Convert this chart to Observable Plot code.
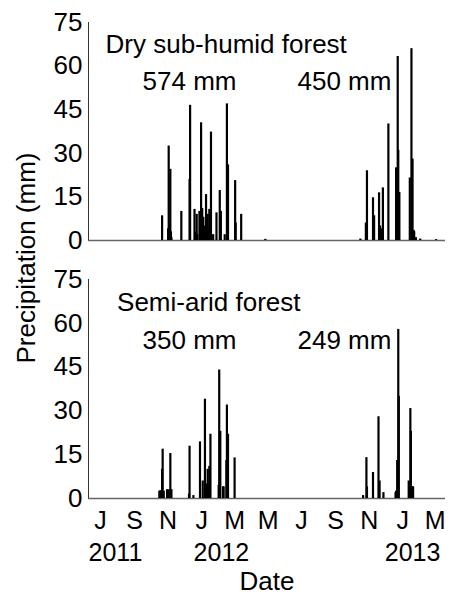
<!DOCTYPE html>
<html><head><meta charset="utf-8">
<script src="https://cdn.jsdelivr.net/npm/d3@7"></script>
<script src="https://cdn.jsdelivr.net/npm/@observablehq/plot@0.6"></script>
<style>
body{margin:0;background:#fff;}
#chart{position:relative;width:452px;height:595px;font-family:"Liberation Sans",Arial,sans-serif;color:#000;}
#chart svg{display:block;}
#ylab{position:absolute;left:26px;top:258px;transform:translate(-50%,-50%) rotate(-90deg);font-size:26px;white-space:nowrap;line-height:1;}
</style></head><body><div id="chart"></div>
<script>
// ---- data ----
const xDomain = ["2011-06-09", "2013-03-20"];
const yTicks = [0, 15, 30, 45, 60, 75];
const tickDates = ["2011-07-01","2011-09-01","2011-11-01","2012-01-01","2012-03-01","2012-05-01","2012-07-01","2012-09-01","2012-11-01","2013-01-01","2013-03-01"];
const tickLetters = ["J","S","N","J","M","M","J","S","N","J","M"];
const yearLabels = ["2011","2012","2013"];
const yearDates = ["2011-07-28","2012-02-06","2013-01-19"];

const dryDates = ["2011-10-21","2011-11-01","2011-11-02","2011-11-03","2011-11-04","2011-11-05","2011-11-06","2011-11-07","2011-11-25","2011-12-10","2011-12-11","2011-12-19","2011-12-20","2011-12-23","2011-12-24","2011-12-28","2011-12-29","2011-12-31","2012-01-01","2012-01-02","2012-01-04","2012-01-05","2012-01-06","2012-01-09","2012-01-10","2012-01-12","2012-01-13","2012-01-15","2012-01-16","2012-01-18","2012-01-19","2012-01-22","2012-01-28","2012-02-03","2012-02-05","2012-02-12","2012-02-16","2012-02-18","2012-03-02","2012-03-03","2012-03-13","2012-04-26","2012-10-16","2012-10-26","2012-10-28","2012-11-08","2012-11-10","2012-11-19","2012-11-21","2012-11-23","2012-11-26","2012-12-06","2012-12-20","2012-12-23","2012-12-24","2012-12-26","2013-01-14","2013-01-17","2013-01-19","2013-01-20","2013-01-21","2013-01-22","2013-01-25","2013-02-02","2013-03-03"];
const dryValues = [8.5,4,32.5,5,5.5,24.5,3,1,10,21,46.5,10.7,3,9,2,10,4,40.5,6,11,8,3,5,15.8,2,9,4,10.7,3,37.3,2,2,9.5,17.2,10,2,47,26,20.6,6,9,0.4,0.5,6,24,14.7,8.5,16.4,5,4,18.1,40.1,25,63.3,31,16.5,21.5,66,28,3,3.5,3,1,0.5,0.3];

const semiDates = ["2011-10-16","2011-10-18","2011-10-21","2011-10-22","2011-10-24","2011-10-30","2011-11-02","2011-11-05","2011-11-07","2011-12-09","2011-12-10","2011-12-17","2011-12-29","2012-01-03","2012-01-07","2012-01-08","2012-01-10","2012-01-12","2012-01-13","2012-01-15","2012-01-16","2012-01-17","2012-02-01","2012-02-02","2012-02-04","2012-02-09","2012-02-10","2012-02-15","2012-02-16","2012-02-18","2012-03-01","2012-10-21","2012-10-27","2012-10-28","2012-11-08","2012-11-18","2012-11-20","2012-11-27","2012-12-19","2012-12-20","2012-12-22","2012-12-24","2012-12-25","2013-01-12","2013-01-13","2013-01-15","2013-01-16","2013-01-19","2013-01-20"];
const semiValues = [2.5,2.7,10,16.9,2.5,3,3,15.4,3,1.5,17.9,1,19.4,6,34,3,5,10,5,11,4,22,4.5,44,23,4,4,13,32,22,13.9,1,14,4,8.9,28,6,2,2,2.5,13,57.9,35,6,4,30.8,23,4,4];

const dryTitle = "Dry sub-humid forest", dryTitleDate = "2011-07-10", dryTitleValue = 67.4;
const dryTotals = ["574 mm","450 mm"], dryTotalDates = ["2011-12-10","2012-09-17"], dryTotalValue = 54.7;
const semiTitle = "Semi-arid forest", semiTitleDate = "2011-07-31", semiTitleValue = 67;
const semiTotals = ["350 mm","249 mm"], semiTotalDates = ["2011-12-10","2012-09-17"], semiTotalValue = 54.2;

// ---- drawing ----
const FONT = '"Liberation Sans", Arial, sans-serif';
const D = s => new Date(s);

function panel({dates, values, title, titleDate, titleValue, totals, totalDates, totalValue, bottom}) {
  const rows = dates.map((d, i) => ({date: D(d), value: values[i]}));
  const x0 = D(xDomain[0]);
  const marks = [
    Plot.ruleY([0], {stroke: "#666", strokeWidth: 1.6}),
    Plot.ruleX([x0], {stroke: "#333", strokeWidth: 1}),
    Plot.ruleX(rows, {x: "date", y: "value", stroke: "#000", strokeWidth: 2.2}),
    Plot.text([title], {x: [D(titleDate)], y: [titleValue], text: d => d, textAnchor: "start", fontSize: 26, fill: "#000"}),
    Plot.text(totals, {x: totalDates.map(D), y: totals.map(() => totalValue), text: d => d, textAnchor: "middle", fontSize: 26, fill: "#000"})
  ];
  if (bottom) {
    marks.push(Plot.text(tickLetters, {x: tickDates.map(D), text: d => d, frameAnchor: "bottom", lineAnchor: "middle", dy: 22, fontSize: 25, fill: "#000"}));
    marks.push(Plot.text(yearLabels, {x: yearDates.map(D), text: d => d, frameAnchor: "bottom", lineAnchor: "middle", dy: 54, fontSize: 25, fill: "#000"}));
    marks.push(Plot.text(["Date"], {text: d => d, frameAnchor: "bottom", lineAnchor: "middle", dy: 83.5, fontSize: 26, fill: "#000"}));
  }
  return Plot.plot({
    width: 452,
    height: bottom ? 337 : 258,
    marginLeft: 88,
    marginRight: 7,
    marginTop: bottom ? 21 : 22,
    marginBottom: bottom ? 97 : 18,
    style: {fontSize: "26px", fontFamily: FONT, color: "#000", background: "#fff", overflow: "visible"},
    x: {type: "utc", domain: xDomain.map(D), axis: null},
    y: {domain: [0, 75], ticks: yTicks, tickSize: 0, tickPadding: 6, label: null},
    marks
  });
}

const chart = document.getElementById("chart");
chart.appendChild(panel({dates: dryDates, values: dryValues, title: dryTitle, titleDate: dryTitleDate, titleValue: dryTitleValue, totals: dryTotals, totalDates: dryTotalDates, totalValue: dryTotalValue, bottom: false}));
chart.appendChild(panel({dates: semiDates, values: semiValues, title: semiTitle, titleDate: semiTitleDate, titleValue: semiTitleValue, totals: semiTotals, totalDates: semiTotalDates, totalValue: semiTotalValue, bottom: true}));
const yl = document.createElement("div");
yl.id = "ylab";
yl.textContent = "Precipitation (mm)";
chart.appendChild(yl);
</script>
</body></html>
